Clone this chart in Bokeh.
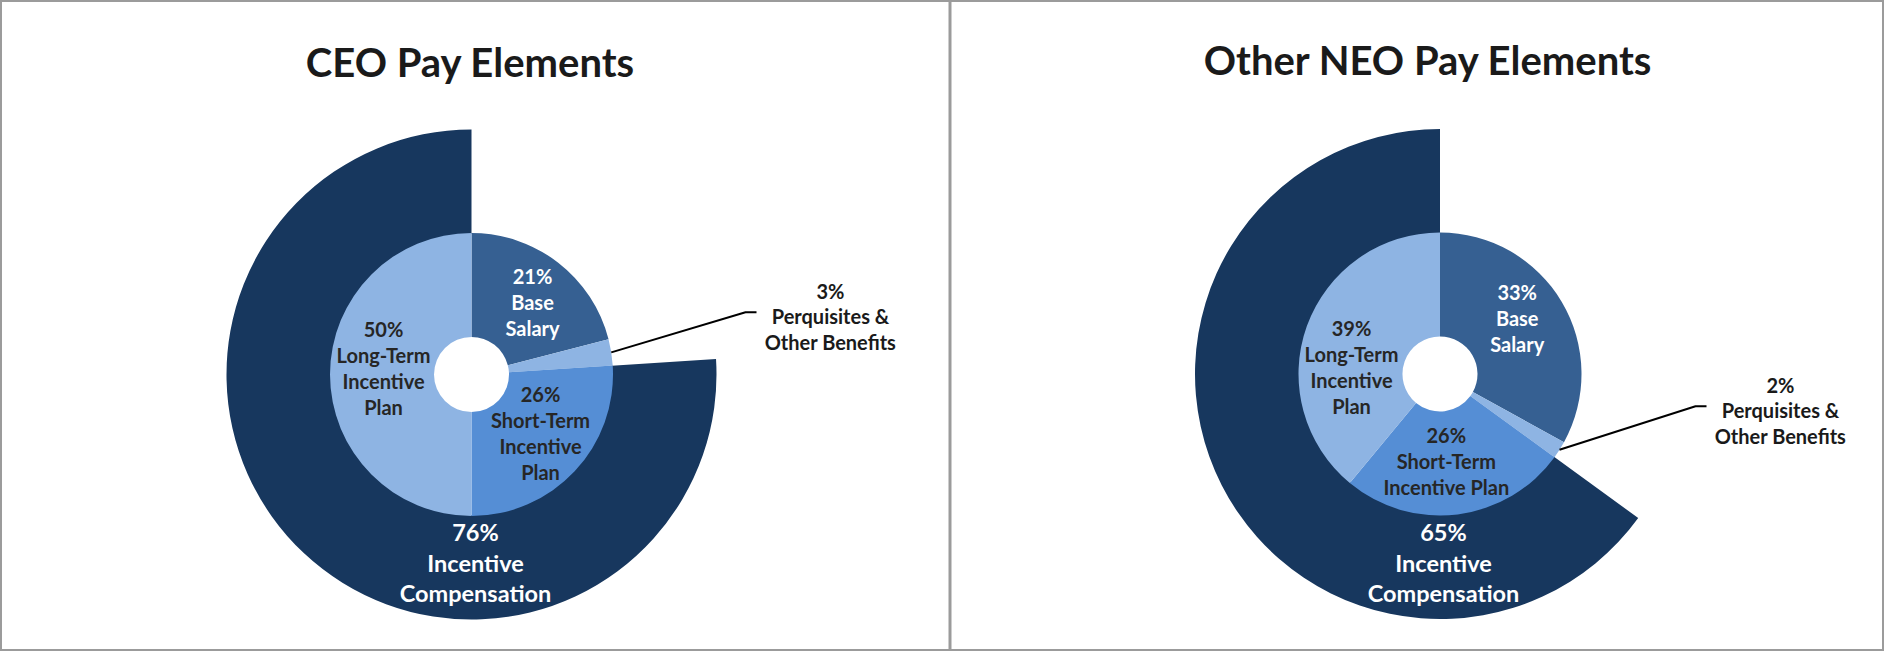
import numpy as np
from bokeh.plotting import figure
from bokeh.models import Range1d
from bokeh.embed import file_html
from bokeh.resources import INLINE
from bokeh.core.properties import value

# ---------------- data ----------------
chart_titles = ["CEO Pay Elements", "Other NEO Pay Elements"]
inner_names = ["Base Salary", "Perquisites & Other Benefits",
               "Short-Term Incentive Plan", "Long-Term Incentive Plan"]
ceo_inner = [21, 3, 26, 50]
neo_inner = [33, 2, 26, 39]
outer_name = "Incentive Compensation"
ceo_outer = 76
neo_outer = 65

# label line splits (text only)
ceo_label_lines = [["Base", "Salary"], ["Perquisites &", "Other Benefits"],
                   ["Short-Term", "Incentive", "Plan"], ["Long-Term", "Incentive", "Plan"]]
neo_label_lines = [["Base", "Salary"], ["Perquisites &", "Other Benefits"],
                   ["Short-Term", "Incentive Plan"], ["Long-Term", "Incentive", "Plan"]]
outer_label_lines = ["Incentive", "Compensation"]

# ---------------- layout / style ----------------
W, H = 1884, 651
REF_H = 667
FONT = value("Lato")
C_OUTER = "#17375E"
C_INNER = ["#366092", "#8EB4E3", "#558ED5", "#8EB4E3"]
TXT_INNER = ["white", None, "#262626", "#262626"]
R_HOLE, R_IN, R_OUT = 37.5, 141.5, 245

layouts = [
    dict(cx=471, cy=374, title_x=470, title_base=61.5,
         lab=[(61, -72.3), None, (69, 58.3), (-88, -6.8)],
         outer_lab=(4, 188), elbow=(274, -62.3)),
    dict(cx=1439.5, cy=373.5, title_x=1428, title_base=59.5,
         lab=[(77.2, -56.2), None, (6.3, 86.5), (-88.5, -7.3)],
         outer_lab=(3.5, 188.5), elbow=(255.5, 32.2)),
]


def Y(yref):
    return REF_H - yref


p = figure(width=W, height=H, x_range=Range1d(0, W), y_range=Range1d(REF_H - H, REF_H),
           output_backend="svg", toolbar_location=None,
           x_axis_type=None, y_axis_type=None, min_border=0)
p.grid.visible = False
p.outline_line_color = "#9b9b9b"
p.outline_line_width = 3
p.background_fill_color = "white"
p.border_fill_color = "white"

# divider between the two panels
p.segment(x0=[949.5], y0=[Y(0)], x1=[949.5], y1=[Y(H)], line_color="#9b9b9b", line_width=3)


def draw_lines(x, yc, lines, spacing, size, color):
    n = len(lines)
    ys = [yc + (i - (n - 1) / 2) * spacing for i in range(n)]
    p.text(x=[x] * n, y=[Y(v) for v in ys], text=lines, text_font=FONT,
           text_font_style="bold", text_font_size=size, text_align="center",
           text_baseline="middle", text_color=color)


for title, inner, outer, lines, L in zip(chart_titles, [ceo_inner, neo_inner],
                                         [ceo_outer, neo_outer],
                                         [ceo_label_lines, neo_label_lines], layouts):
    cx, cy = L["cx"], L["cy"]
    cyd = Y(cy)
    # outer ring: ends at 12 o'clock, going counter-clockwise
    p.annular_wedge(x=[cx], y=[cyd], inner_radius=R_IN - 1, outer_radius=R_OUT,
                    start_angle=[90], end_angle=[90 + 360 * outer / 100],
                    start_angle_units="deg", end_angle_units="deg",
                    direction="anticlock", fill_color=C_OUTER, line_color=None)
    # inner ring, clockwise from 12 o'clock
    cum = np.concatenate([[0], np.cumsum(inner)]) * 3.6
    starts = [90 - cum[i + 1] for i in range(len(inner))]
    ends = [90 - cum[i] for i in range(len(inner))]
    p.annular_wedge(x=[cx] * len(inner), y=[cyd] * len(inner), inner_radius=R_HOLE,
                    outer_radius=R_IN, start_angle=starts, end_angle=ends,
                    start_angle_units="deg", end_angle_units="deg",
                    direction="anticlock", fill_color=C_INNER, line_color=None)
    # title
    p.text(x=[L["title_x"]], y=[Y(L["title_base"])], text=[title], text_font=FONT,
           text_font_style="bold", text_font_size="40px", text_align="center",
           text_baseline="alphabetic", text_color="#1a1a1a")
    # inner labels
    for i, v in enumerate(inner):
        if L["lab"][i] is None:
            continue
        dx, dy = L["lab"][i]
        draw_lines(cx + dx, cy + dy, [f"{v}%"] + lines[i], 26, "20px", TXT_INNER[i])
    # outer label
    dx, dy = L["outer_lab"]
    draw_lines(cx + dx, cy + dy, [f"{outer}%"] + outer_label_lines, 30.5, "23.5px", "white")
    # perquisites callout
    mid = np.deg2rad(90 - (cum[1] + cum[2]) / 2)
    sx, sy = cx + R_IN * np.cos(mid), cy - R_IN * np.sin(mid)
    ex, ey = cx + L["elbow"][0], cy + L["elbow"][1]
    p.line(x=[sx, ex, ex + 11], y=[Y(sy), Y(ey), Y(ey)], line_color="black", line_width=2)
    draw_lines(ex + 11 + 74, ey + 4, [f"{inner[1]}%"] + lines[1], 25.5, "20px", "#1a1a1a")

open("out.html", "w").write(file_html(p, INLINE))
